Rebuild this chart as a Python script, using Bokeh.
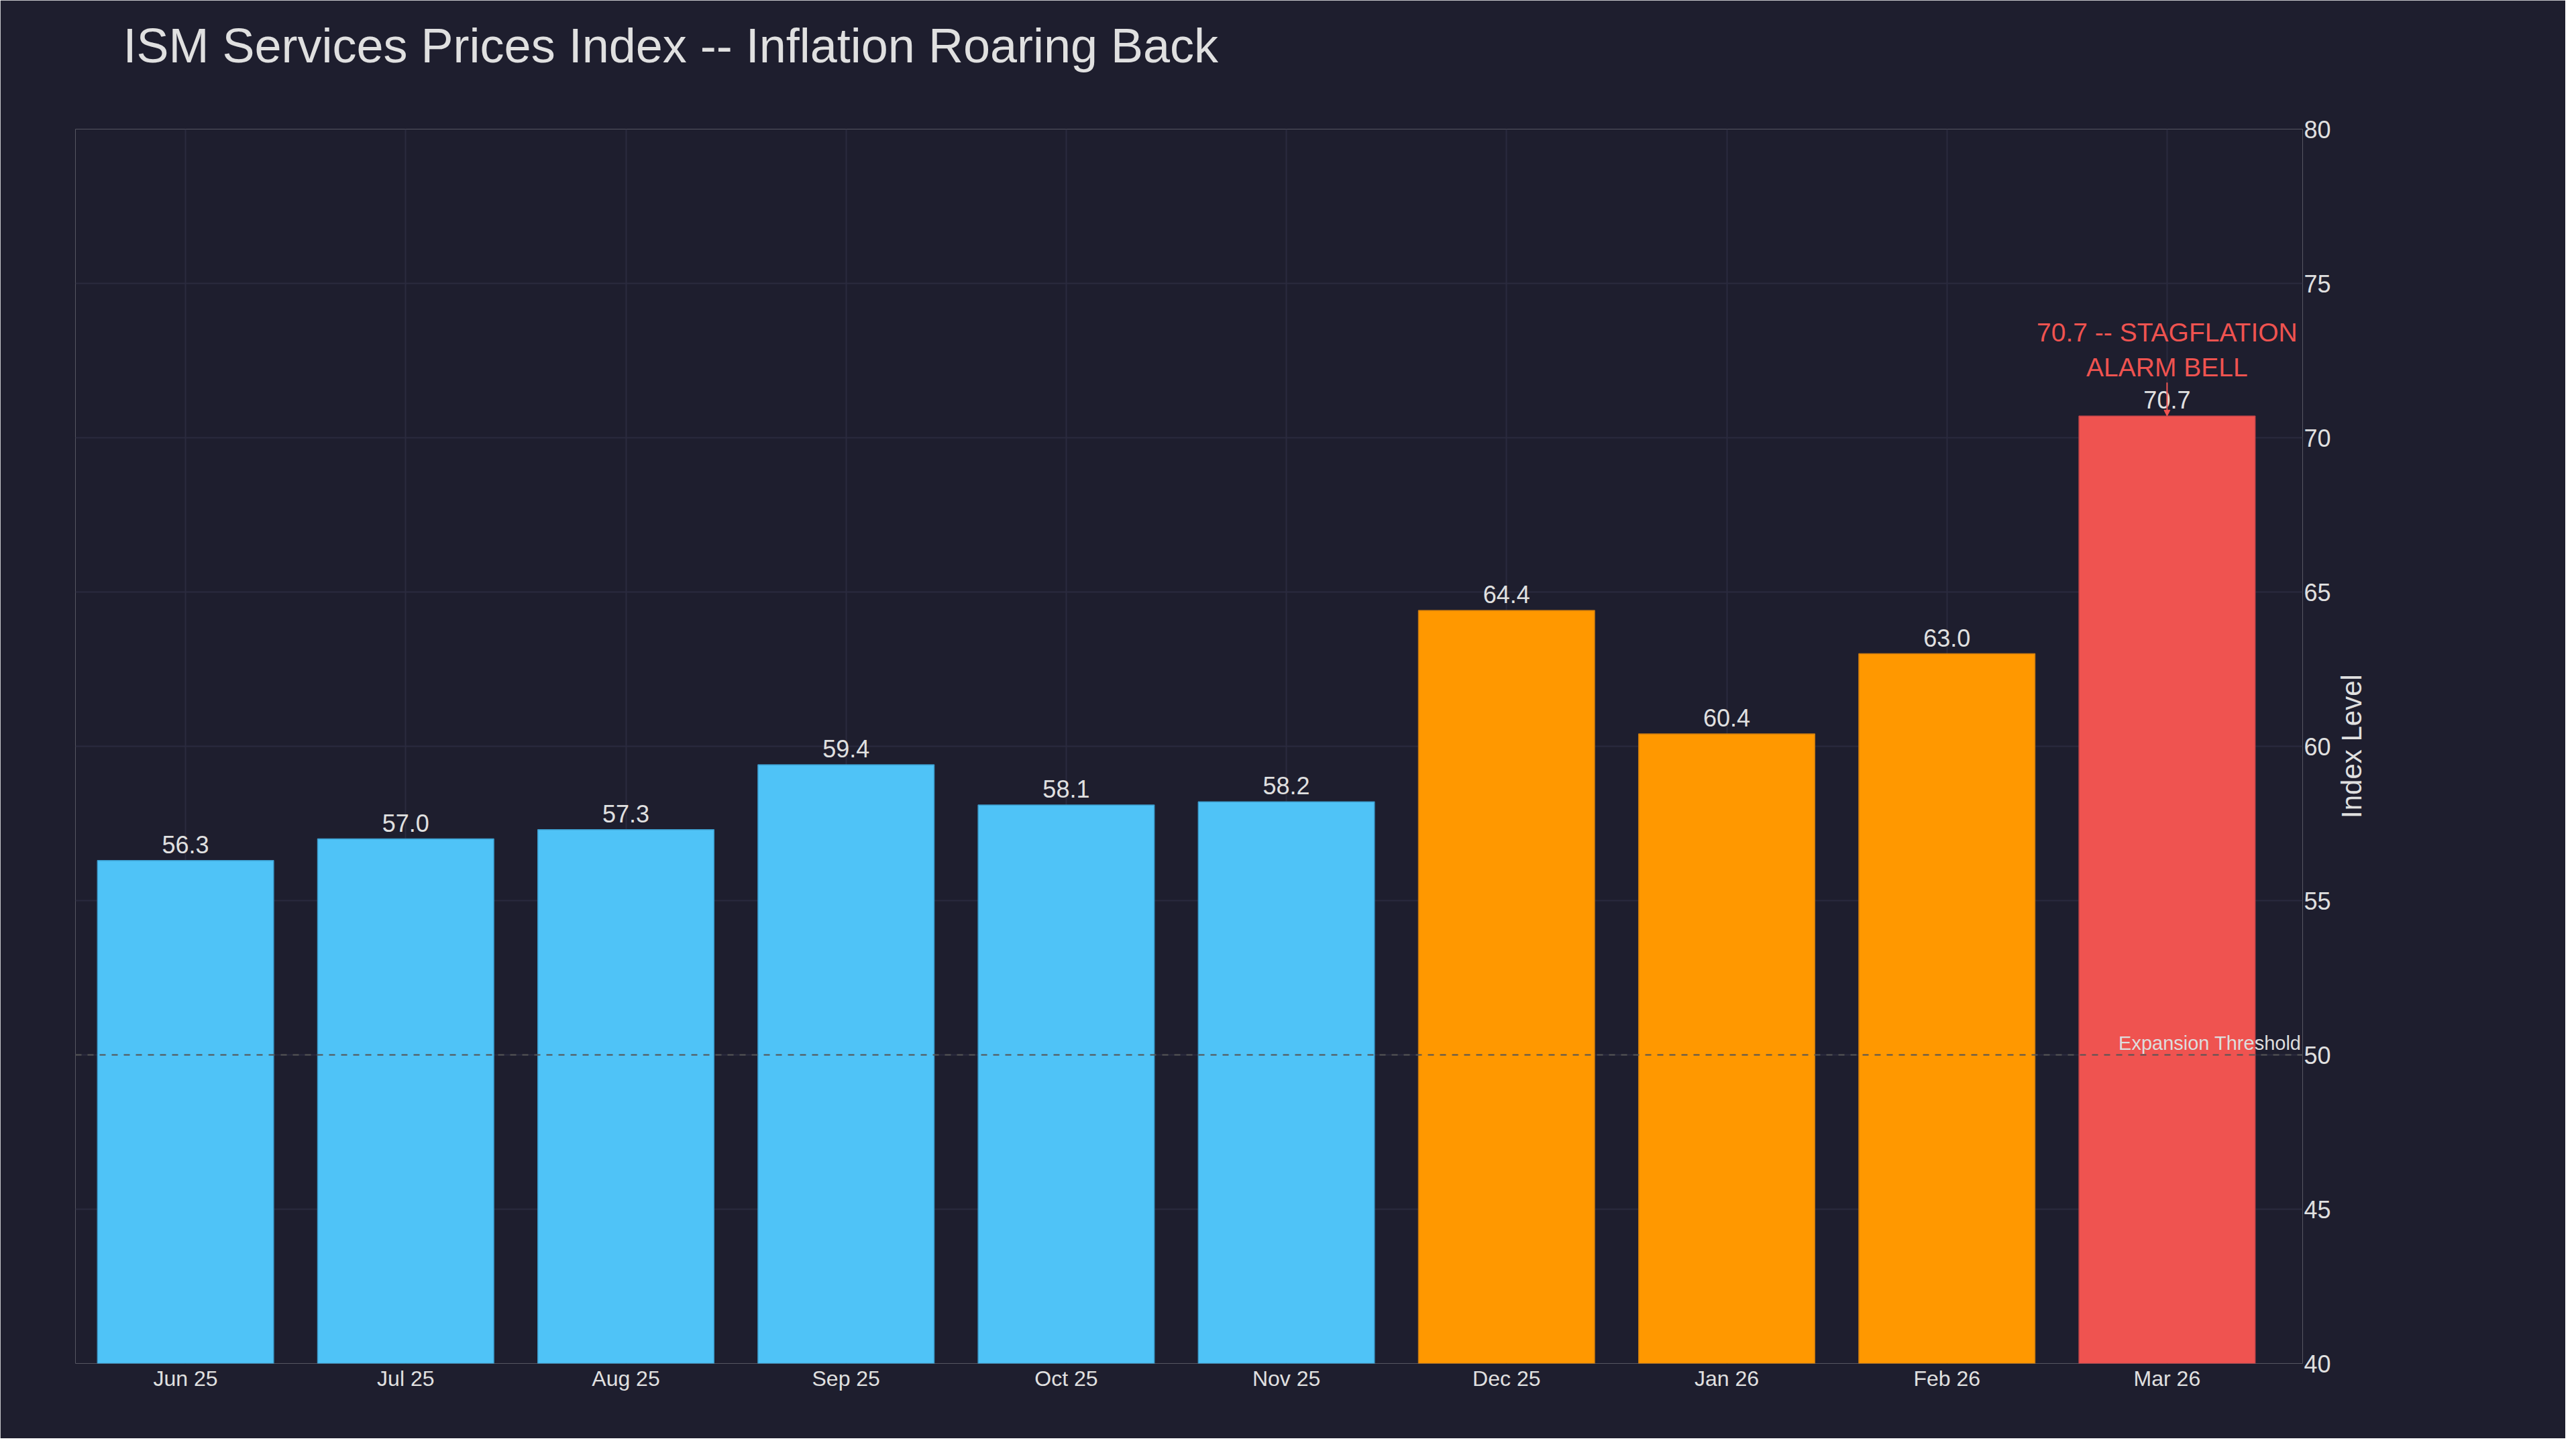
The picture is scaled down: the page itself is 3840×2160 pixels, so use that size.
import math
from bokeh.plotting import figure
from bokeh.models import Range1d, FixedTicker, Span, Arrow, NormalHead, ColumnDataSource, Label
from bokeh.core.properties import value
from bokeh.embed import file_html
from bokeh.resources import INLINE

# ---- data ----
months = ["Jun 25", "Jul 25", "Aug 25", "Sep 25", "Oct 25",
          "Nov 25", "Dec 25", "Jan 26", "Feb 26", "Mar 26"]
prices = [56.3, 57.0, 57.3, 59.4, 58.1, 58.2, 64.4, 60.4, 63.0, 70.7]
groups = ["base"] * 6 + ["hot"] * 3 + ["alarm"]
threshold = 50
y_min, y_max = 40, 80
y_ticks = [40, 45, 50, 55, 60, 65, 70, 75, 80]
title_text = "ISM Services Prices Index -- Inflation Roaring Back"
annotation_lines = ["70.7 -- STAGFLATION", "ALARM BELL"]
threshold_label = "Expansion Threshold"
y_label = "Index Level"

# ---- styles ----
BG = "#1e1e2e"
GRID = "#2a2a3e"
TXT = "#e0e0e0"
FONT = "Liberation Sans"
fill = {"base": "#4FC3F7", "hot": "#FF9800", "alarm": "#EF5350"}
edge = {"base": "#3b9ccc", "hot": "#c97a10", "alarm": "#c9464a"}

idx = list(range(len(months)))
src = ColumnDataSource(dict(
    x=idx,
    top=prices,
    label=[f"{v:.1f}" for v in prices],
    fill=[fill[g] for g in groups],
    edge=[edge[g] for g in groups],
))

x_start = -0.5
x_end = -0.5 + 3320 / 328.2
p = figure(width=3824, height=2144, output_backend="svg", toolbar_location=None,
           x_range=Range1d(x_start, x_end), y_range=Range1d(y_min, y_max),
           y_axis_location="right",
           min_border_left=112, min_border_right=392,
           min_border_top=192, min_border_bottom=112)

p.background_fill_color = BG
p.border_fill_color = BG
p.outline_line_color = None
p.title.text = ""

# grids
p.xgrid.ticker = FixedTicker(ticks=idx)
p.ygrid.ticker = FixedTicker(ticks=y_ticks)
p.xgrid.grid_line_color = GRID
p.ygrid.grid_line_color = GRID
p.xgrid.grid_line_width = 2
p.ygrid.grid_line_width = 2

# x axis
xa = p.xaxis[0]
xa.ticker = FixedTicker(ticks=idx)
xa.major_label_overrides = {i: m for i, m in zip(idx, months)}
xa.axis_line_color = None
xa.major_tick_line_color = None
xa.minor_tick_line_color = None
xa.major_tick_out = 0
xa.major_label_standoff = 4
xa.major_label_text_font = FONT
xa.major_label_text_font_size = "32px"
xa.major_label_text_color = TXT

# y axis (right)
ya = p.yaxis[0]
ya.ticker = FixedTicker(ticks=y_ticks)
ya.axis_line_color = None
ya.major_tick_line_color = None
ya.minor_tick_line_color = None
ya.major_tick_out = 0
ya.major_label_standoff = 2
ya.major_label_text_font = FONT
ya.major_label_text_font_size = "36px"
ya.major_label_text_color = TXT

# title (label in the top panel)
p.add_layout(Label(x=71, y=125, x_units="screen", y_units="screen", text=title_text,
                   text_font=FONT, text_font_size="72px", text_color=TXT,
                   text_align="left", text_baseline="alphabetic"), "above")

# y axis title (label in the right panel, reads upward)
p.add_layout(Label(x=28, y=(y_min + y_max) / 2, x_units="screen", y_units="data",
                   text=y_label, angle=math.pi / 2, text_font=FONT,
                   text_font_size="42px", text_color=TXT,
                   text_align="center", text_baseline="alphabetic"), "right")

# bars
p.vbar(x="x", top="top", bottom=y_min, width=0.8, source=src,
       fill_color="fill", line_color="edge", line_width=1.5)

# value labels
p.text(x="x", y="top", text="label", source=src,
       text_align="center", text_baseline="alphabetic", y_offset=-24,
       text_font=value(FONT), text_font_size="36px", text_color=TXT)

# threshold line and label
p.add_layout(Span(location=threshold, dimension="width", line_color="#555555",
                  line_width=2, line_dash="9 9"))
p.text(x=[x_end], y=[threshold], text=[threshold_label],
       text_align="right", text_baseline="alphabetic", x_offset=-2, y_offset=-18,
       text_font=value(FONT), text_font_size="29px", text_color="#dddddd")

# annotation for the peak
peak_i = prices.index(max(prices))
peak = prices[peak_i]
p.add_layout(Arrow(x_start=peak_i, y_start=peak + 50 / 46, x_end=peak_i, y_end=peak,
                   line_color="#EF5350", line_width=2,
                   end=NormalHead(size=9, fill_color="#EF5350", line_color="#EF5350")))
p.text(x=[peak_i, peak_i], y=[peak, peak], text=annotation_lines,
       text_align="center", text_baseline="alphabetic",
       y_offset=[-125, -73],
       text_font=value(FONT), text_font_size="39px", text_color="#EF5350")

open("out.html", "w").write(file_html(p, INLINE))
